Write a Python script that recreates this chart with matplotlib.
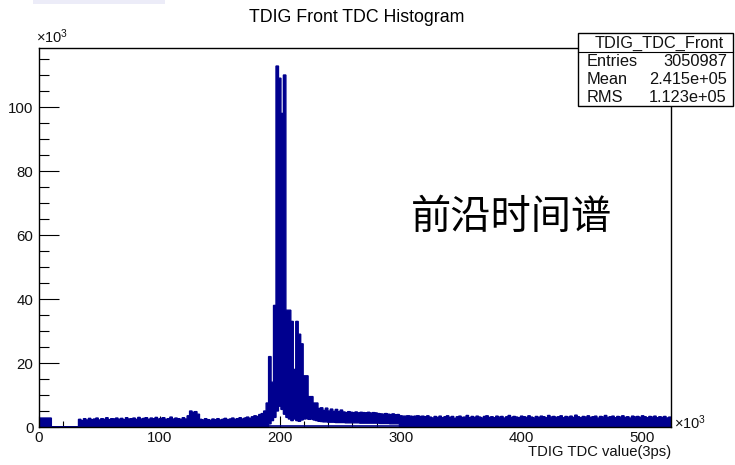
#!/usr/bin/env python3
"""Leading-edge TDC spectrum of the TDIG front channel, ROOT-style histogram."""

import matplotlib

matplotlib.use("Agg")
import matplotlib.pyplot as plt
import numpy as np
from matplotlib.patches import Rectangle
from matplotlib.ticker import MultipleLocator

plt.rcParams["font.family"] = ["Liberation Sans", "Noto Sans CJK SC"]
plt.rcParams["mathtext.fontset"] = "custom"
plt.rcParams["mathtext.rm"] = "Liberation Sans"
plt.rcParams["mathtext.default"] = "regular"

# histogram binning, in units of 10^3 TDC counts (3 ps each)
BIN_WIDTH_K = 2.048
N_BINS = 256

# bin contents [10^3 entries], upper envelope per bin, left to right
early_bins = [2.8, 2.8, 2.8, 2.8, 2.8]
empty_bins = [0.0] * 11
flat_bins = [
    2.4, 2.0, 2.6, 2.2, 2.7, 2.3, 2.5, 2.8, 2.2, 2.6, 2.4,
    2.9, 2.3, 2.6, 2.5, 2.8, 2.4, 2.7, 2.3, 2.9, 2.5, 2.6,
    2.8, 2.4, 3.0, 2.5, 2.7, 2.9, 2.4, 2.8, 2.6, 3.0, 2.5,
    2.7, 2.9, 2.4, 2.6, 3.1, 2.5, 2.8, 2.6, 2.4, 2.9, 2.5,
]
bump_bins = [3.5, 5.0, 4.6, 4.8, 4.0]
pre_peak_bins = [
    2.4, 2.2, 2.6, 2.3, 2.1, 2.5, 2.3, 2.6, 2.2, 2.4, 2.7,
    2.3, 2.5, 2.8, 2.4, 2.6, 2.9, 2.5, 2.8, 3.1, 2.7, 3.2,
    3.5, 3.3, 3.9, 4.2, 5.0,
]
peak_bins = [
    7.5, 22.0, 14.0, 38.0, 112.8, 109.0, 98.0, 110.0, 36.5, 36.5,
    33.0, 18.0, 33.0, 29.0, 26.0, 16.0, 16.0, 9.5, 9.5, 7.5, 7.5,
]
tail_bins = [
    5.8, 6.0, 5.2, 5.9, 5.0, 5.6, 4.9, 5.5, 4.8, 5.3,
    4.7, 4.5, 4.8, 4.6, 4.5, 4.7, 4.4, 4.6, 4.5, 4.4, 4.6, 4.3, 4.5, 4.4, 4.2,
    4.1, 4.0, 4.2, 4.0, 3.9, 4.1, 3.8, 3.9,
    3.5, 3.4, 3.4, 3.5, 3.4, 3.3, 3.4, 3.5, 3.3, 3.4, 3.2, 3.5,
]
late_bins = [
    3.1, 2.8, 3.3, 3.0, 3.4, 2.9, 3.2, 3.5, 3.0, 3.3, 2.7, 3.2, 3.4, 3.0,
    3.1, 3.6, 2.9, 3.3, 3.0, 3.4, 3.1, 2.8, 3.3, 3.5, 3.0, 3.2, 2.9, 3.4,
    3.1, 3.3, 2.8, 3.2, 3.6, 3.0, 3.3, 3.1, 2.9, 3.4, 3.2, 3.0, 3.5, 3.1,
    2.8, 3.3, 3.0, 3.4, 3.2, 2.9, 3.6, 3.1, 3.3, 3.0, 3.2, 3.5, 2.9, 3.3,
    3.1, 3.4, 3.0, 3.7, 3.2, 2.9, 3.3, 3.1, 3.5, 3.0, 3.2, 3.4, 2.8, 3.3,
    3.1, 3.6, 3.0, 3.2, 3.4, 2.9, 3.3, 3.1, 3.5, 3.0, 3.2, 2.8, 3.4, 3.1,
    3.3, 3.0, 3.5, 3.2, 2.9, 3.3, 3.1, 3.4, 2.9, 3.2, 3.0, 3.3, 2.8, 3.1,
]

# lower envelope [10^3 entries]: the sparsest bin inside each pixel column
low_peak = [
    0.0, 1.0, 2.0, 3.0, 5.0, 6.5, 5.5, 4.0, 3.0, 2.5,
    2.0, 2.5, 2.0, 1.8, 2.2, 2.5, 2.6, 2.4, 2.5, 2.2, 2.0,
]
low_tail = [
    1.8, 1.7, 1.6, 1.6, 1.5, 1.5, 1.5, 1.4, 1.4, 1.4,
    1.4, 1.3, 1.3, 1.3, 1.3, 1.3, 1.3, 1.2, 1.2, 1.2, 1.2, 1.2, 1.2, 1.2, 1.2,
    1.1, 1.1, 1.1, 1.1, 1.0, 1.0, 1.0, 1.0,
]

STATS = [("Entries", "3050987"), ("Mean", "2.415e+05"), ("RMS", "1.123e+05")]
HIST_NAME = "TDIG_TDC_Front"
TITLE = "TDIG Front TDC Histogram"
XLABEL = "TDIG TDC value(3ps)"
NOTE = "前沿时间谱"

FILL = "#00008f"
W, H = 735, 465


def fx(px):
    return px / W


def fy(py):
    return 1 - py / H


def main() -> None:
    upper = np.array(early_bins + empty_bins + flat_bins + bump_bins
                     + pre_peak_bins + peak_bins + tail_bins + late_bins)
    n_before_peak = len(early_bins + empty_bins + flat_bins + bump_bins + pre_peak_bins)
    lower = np.zeros_like(upper)
    lower[n_before_peak:n_before_peak + len(low_peak)] = low_peak
    start_tail = n_before_peak + len(low_peak)
    lower[start_tail:start_tail + len(low_tail)] = low_tail
    assert len(upper) == N_BINS, len(upper)
    edges = np.arange(N_BINS + 1) * BIN_WIDTH_K

    fig = plt.figure(figsize=(W / 100, H / 100), dpi=100)
    ax = fig.add_axes((fx(39), fy(427), fx(671) - fx(39), fy(48) - fy(427)))

    ax.stairs(upper, edges, baseline=lower, fill=True, color=FILL,
              linewidth=0, zorder=2)
    ax.stairs(upper, edges, baseline=lower, color=FILL, linewidth=1.0, zorder=2)
    first = len(early_bins) + len(empty_bins)
    ax.hlines(0.45, edges[first], edges[-1], color=FILL, linewidth=1.2, zorder=2)

    ax.set_xlim(0, edges[-1])
    ax.set_ylim(0, 1.05 * upper.max())

    ax.xaxis.set_major_locator(MultipleLocator(100))
    ax.xaxis.set_minor_locator(MultipleLocator(20))
    ax.yaxis.set_major_locator(MultipleLocator(20))
    ax.yaxis.set_minor_locator(MultipleLocator(5))
    ax.tick_params(direction="in", which="both", top=False, right=False,
                   labelsize=10.8, colors="black", labelcolor="#111111", width=0.8)
    ax.tick_params(axis="y", which="major", length=14.4, pad=4)
    ax.tick_params(axis="y", which="minor", length=7.2)
    ax.tick_params(axis="x", which="major", length=8.2, pad=3)
    ax.tick_params(axis="x", which="minor", length=4.1)
    for s in ax.spines.values():
        s.set_linewidth(1.0)
        s.set_zorder(3)

    ax.set_xlabel(XLABEL, loc="right", fontsize=10.6, labelpad=0, color="#111111")
    ax.text(-0.004, 1.006, r"×10$^{3}$", transform=ax.transAxes,
            ha="left", va="bottom", fontsize=10.5, color="#111111")
    ax.text(1.004, -0.014, r"×10$^{3}$", transform=ax.transAxes,
            ha="left", va="bottom", fontsize=10.5, color="#111111")

    ax.text(0.748, 0.553, NOTE, transform=ax.transAxes, ha="center",
            va="center", fontsize=29, family=["Noto Sans CJK SC", "DejaVu Sans"])

    fig.text(fx(357), fy(17), TITLE, ha="center", va="center", fontsize=12.8)

    # stats box in the top-right corner
    box = Rectangle((fx(578), fy(106)), fx(733) - fx(578), fy(33) - fy(106),
                    transform=fig.transFigure, facecolor="white",
                    edgecolor="black", linewidth=1.0, zorder=5)
    fig.add_artist(box)
    fig.add_artist(plt.Line2D([fx(578), fx(733)], [fy(52.5), fy(52.5)],
                              transform=fig.transFigure, color="black",
                              linewidth=0.8, zorder=6))
    fig.text(fx(659), fy(43), HIST_NAME, ha="center", va="center",
             fontsize=11.8, zorder=7, color="#111111")
    for row, (name, value) in enumerate(STATS):
        y = fy(61.5 + row * 18)
        fig.text(fx(587), y, name, ha="left", va="center", fontsize=11.8,
                 zorder=7, color="#111111")
        fig.text(fx(727), y, value, ha="right", va="center", fontsize=11.8,
                 zorder=7, color="#111111")

    # faint smudge along the top-left edge
    fig.add_artist(Rectangle((fx(33), fy(4)), fx(165) - fx(33), fy(0) - fy(4),
                             transform=fig.transFigure, facecolor="#ececf8",
                             edgecolor="none"))

    fig.savefig("out.png", dpi=100)
    plt.close(fig)


if __name__ == "__main__":
    main()
